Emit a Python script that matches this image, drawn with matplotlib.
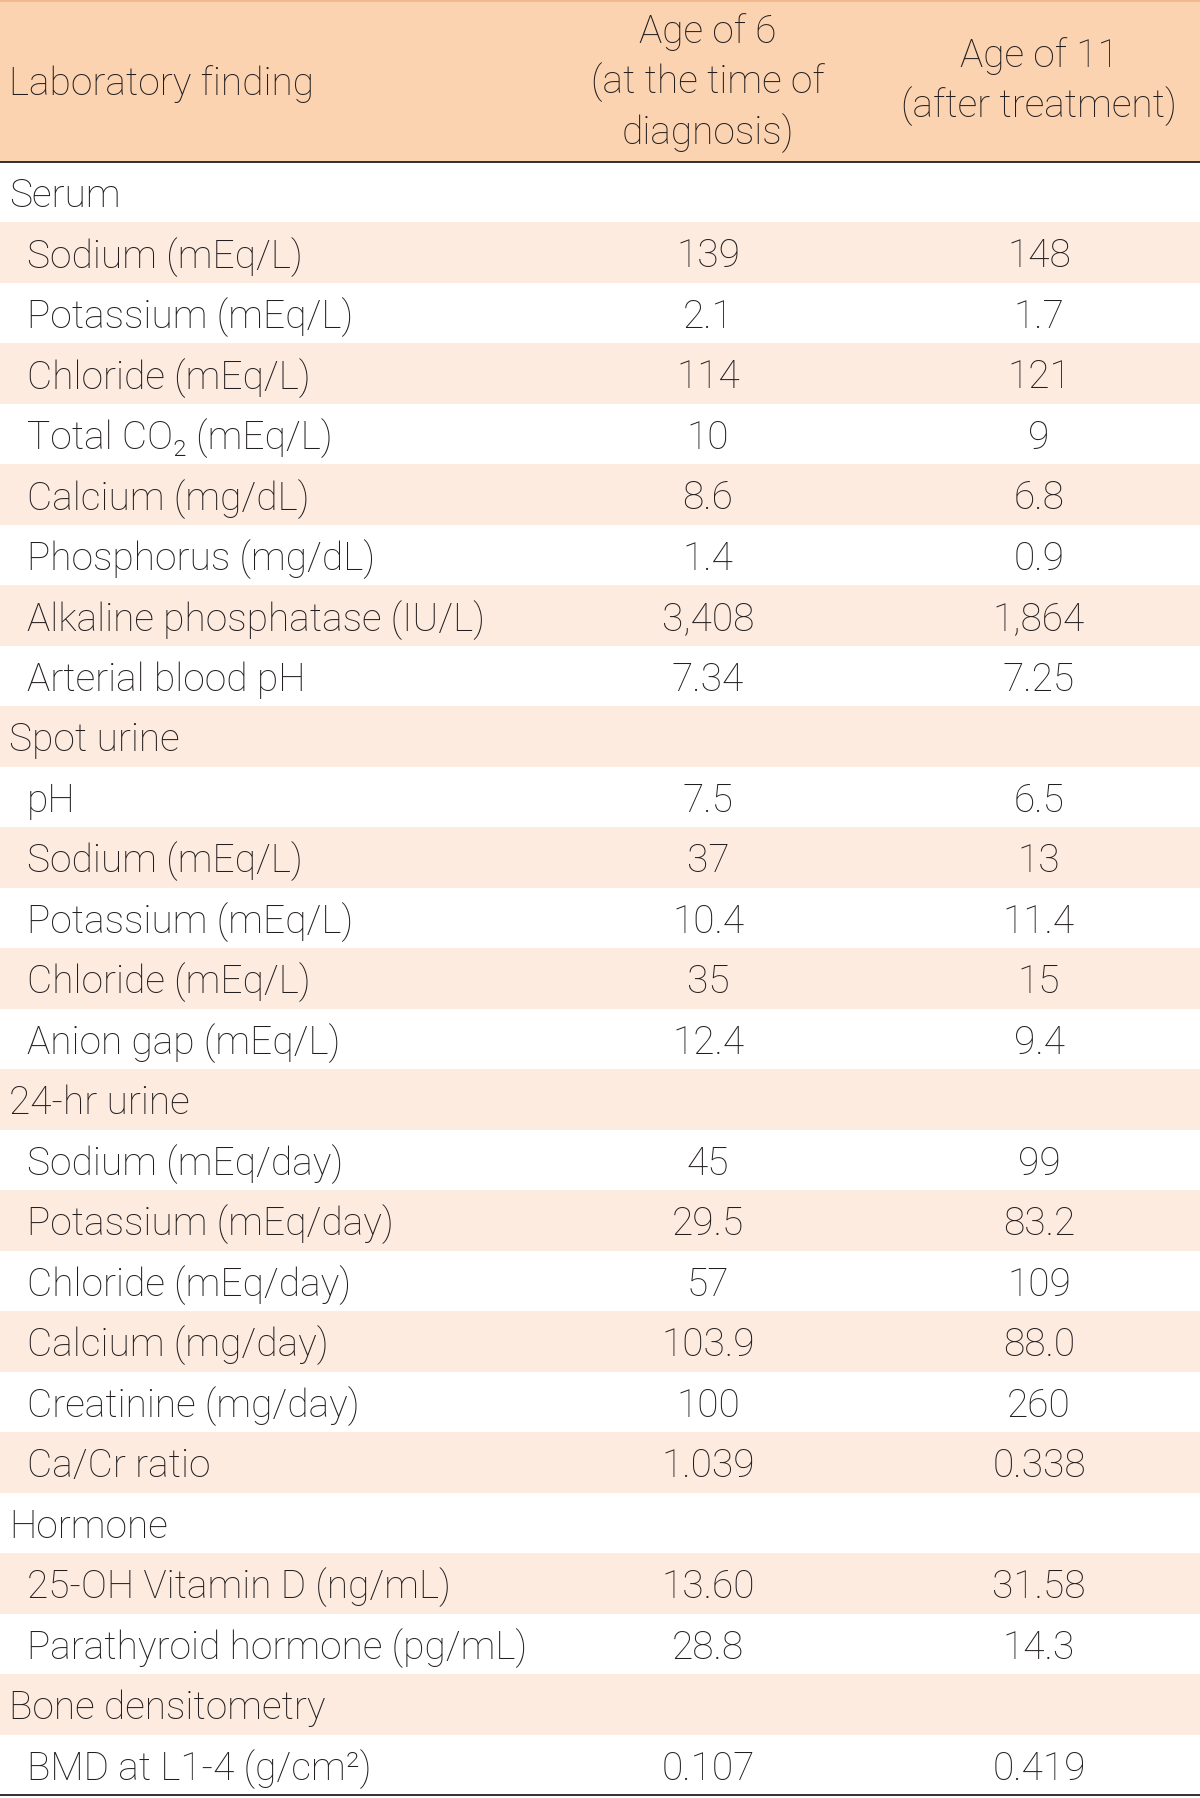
"""Laboratory findings table"""

import matplotlib
matplotlib.use("Agg")
from matplotlib import pyplot as plt
from matplotlib.patches import Rectangle

plt.rcParams['font.family'] = ['Roboto', 'DejaVu Sans']
plt.rcParams['font.weight'] = 'light'

header_label = "Laboratory finding"
header_col1 = "Age of 6\n(at the time of\ndiagnosis)"
header_col2 = "Age of 11\n(after treatment)"

# (label, is_group)
labels = [
    ("Serum", True),
    ("Sodium (mEq/L)", False),
    ("Potassium (mEq/L)", False),
    ("Chloride (mEq/L)", False),
    ("Total CO₂ (mEq/L)", False),
    ("Calcium (mg/dL)", False),
    ("Phosphorus (mg/dL)", False),
    ("Alkaline phosphatase (IU/L)", False),
    ("Arterial blood pH", False),
    ("Spot urine", True),
    ("pH", False),
    ("Sodium (mEq/L)", False),
    ("Potassium (mEq/L)", False),
    ("Chloride (mEq/L)", False),
    ("Anion gap (mEq/L)", False),
    ("24-hr urine", True),
    ("Sodium (mEq/day)", False),
    ("Potassium (mEq/day)", False),
    ("Chloride (mEq/day)", False),
    ("Calcium (mg/day)", False),
    ("Creatinine (mg/day)", False),
    ("Ca/Cr ratio", False),
    ("Hormone", True),
    ("25-OH Vitamin D (ng/mL)", False),
    ("Parathyroid hormone (pg/mL)", False),
    ("Bone densitometry", True),
    ("BMD at L1-4 (g/cm²)", False),
]

age6 = ["", "139", "2.1", "114", "10", "8.6", "1.4", "3,408", "7.34",
        "", "7.5", "37", "10.4", "35", "12.4",
        "", "45", "29.5", "57", "103.9", "100", "1.039",
        "", "13.60", "28.8",
        "", "0.107"]
age11 = ["", "148", "1.7", "121", "9", "6.8", "0.9", "1,864", "7.25",
         "", "6.5", "13", "11.4", "15", "9.4",
         "", "99", "83.2", "109", "88.0", "260", "0.338",
         "", "31.58", "14.3",
         "", "0.419"]

W, H = 1200, 1798
header_h = 162
row_h = (1795 - header_h) / len(labels)
col1_x = 708
col2_x = 1039
fsize = 28
textcol = '#231f20'
head_bg = '#fcd3b1'
shade_bg = '#fdebdf'
dy = 4  # text sits a bit below the row centre

fig = plt.figure(figsize=(W / 100, H / 100), dpi=100)
ax = fig.add_axes([0, 0, 1, 1])
ax.set_xlim(0, W)
ax.set_ylim(H, 0)
ax.axis('off')

# header
ax.add_patch(Rectangle((0, 0), W, header_h, color=head_bg, lw=0))
ax.plot([0, W], [1, 1], color='#f2b98f', lw=1.5)
ax.text(9, 84, header_label, fontsize=fsize, color=textcol, va='center', ha='left')
ax.text(col1_x, 83, header_col1, fontsize=fsize, color=textcol, va='center', ha='center',
        linespacing=1.36)
ax.text(col2_x, 82, header_col2, fontsize=fsize, color=textcol, va='center', ha='center',
        linespacing=1.36)
ax.plot([0, W], [header_h, header_h], color='#231f20', lw=1.3)

for i, (lab, grp) in enumerate(labels):
    top = header_h + i * row_h
    yc = top + row_h / 2 + dy
    if i % 2 == 1:
        ax.add_patch(Rectangle((0, top), W, row_h, color=shade_bg, lw=0))
    ax.text(9 if grp else 27, yc, lab, fontsize=fsize, color=textcol, va='center', ha='left')
    ax.text(col1_x, yc, age6[i], fontsize=fsize, color=textcol, va='center', ha='center')
    ax.text(col2_x, yc, age11[i], fontsize=fsize, color=textcol, va='center', ha='center')

ax.plot([0, W], [1795, 1795], color='#231f20', lw=1.3)

fig.savefig('out.png', dpi=100)
